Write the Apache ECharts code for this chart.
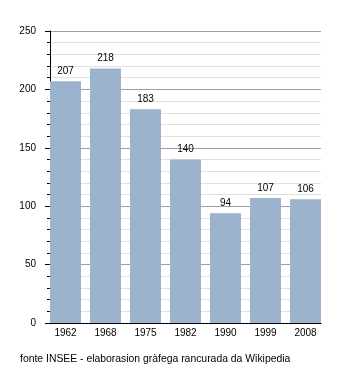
<!DOCTYPE html>
<html>
<head>
<meta charset="utf-8">
<script src="https://cdn.jsdelivr.net/npm/echarts@6/dist/echarts.min.js"></script>
<style>html,body{margin:0;padding:0;background:#fff}#c{width:350px;height:373px}</style>
</head>
<body>
<div id="c"></div>
<script>
var categories = ['1962', '1968', '1975', '1982', '1990', '1999', '2008'];
var values = [207, 218, 183, 140, 94, 107, 106];
var yTicks = [0, 50, 100, 150, 200, 250];
var sourceText = 'fonte INSEE - elaborasion gràfega rancurada da Wikipedia';

var chart = echarts.init(document.getElementById('c'), null, {renderer: 'canvas'});
var FONT = 'Liberation Sans, Arial, sans-serif';
chart.setOption({
  animation: false,
  textStyle: {fontFamily: FONT},
  grid: {left: 50, right: 29, top: 31, bottom: 50},
  graphic: [{
    type: 'text', left: 20, top: 354,
    style: {text: sourceText, font: '10.4px ' + FONT, fill: '#000'}
  }],
  xAxis: {
    type: 'value', min: -0.3875, max: 6.3875,
    axisLine: {show: true, onZero: false, lineStyle: {color: '#000', width: 1}},
    axisTick: {show: false},
    splitLine: {show: false},
    axisLabel: {
      customValues: categories.map(function (c, i) { return i; }),
      formatter: function (v) { return categories[Math.round(v)]; },
      color: '#000', fontSize: 10, fontFamily: FONT, margin: 5
    }
  },
  yAxis: {
    type: 'value', min: 0, max: 250, interval: 50,
    axisLine: {show: true, onZero: false, lineStyle: {color: '#000', width: 1}},
    axisTick: {show: true, length: 5, lineStyle: {color: '#000'}},
    minorTick: {show: true, splitNumber: 5, length: 3, lineStyle: {color: '#000'}},
    splitLine: {show: true, lineStyle: {color: '#a0a0a0', width: 1}},
    minorSplitLine: {show: true, lineStyle: {color: '#e0e0e0', width: 1}},
    axisLabel: {
      customValues: yTicks,
      color: '#000', fontSize: 10, fontFamily: FONT, margin: 14
    }
  },
  series: [{
    type: 'bar',
    barWidth: 31,
    data: values.map(function (v, i) { return [i, v]; }),
    itemStyle: {color: '#9bb3cc'},
    label: {show: true, position: 'top', distance: 5, color: '#000', fontSize: 10, fontFamily: FONT,
      formatter: function (p) { return p.value[1]; }}
  }]
});
</script>
</body>
</html>
